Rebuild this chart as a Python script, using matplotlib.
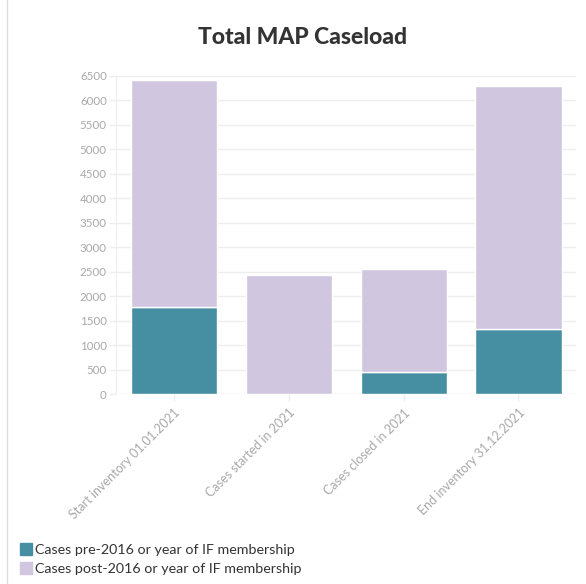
import matplotlib.pyplot as plt
from matplotlib.lines import Line2D

categories = ["Start inventory 01.01.2021", "Cases started in 2021",
              "Cases closed in 2021", "End inventory 31.12.2021"]
pre_2016 = [1770, 0, 440, 1320]
post_2016 = [4650, 2430, 2115, 4980]
series_names = ["Cases pre-2016 or year of IF membership",
                "Cases post-2016 or year of IF membership"]
yticks = list(range(0, 6501, 500))

teal = "#468fa3"
lavender = "#d0c6e0"
grid_c = "#eeeeee"
tick_c = "#a8a8a8"

plt.rcParams['font.family'] = ['Lato', 'DejaVu Sans']

fig = plt.figure(figsize=(5.86, 5.84), dpi=100)
ax = fig.add_axes([0.1988, 0.3253, 0.784, 0.5446])

x = range(len(categories))
ax.bar(x, pre_2016, width=0.75, color=teal, edgecolor="white", linewidth=1, zorder=3)
ax.bar(x, post_2016, bottom=pre_2016, width=0.75, color=lavender,
       edgecolor="white", linewidth=1, zorder=3)

ax.set_xlim(-0.5, 3.5)
ax.set_ylim(0, 6500)
ax.set_yticks(yticks)
ax.set_yticklabels([str(v) for v in yticks], fontsize=8.3, color=tick_c)
ax.set_xticks(list(x))
ax.set_xticklabels(categories, rotation=45, ha="right", rotation_mode="anchor",
                   fontsize=9, color=tick_c)
ax.grid(axis="y", color=grid_c, linewidth=1, zorder=0)
ax.tick_params(axis="both", color=grid_c, length=5, width=1)
ax.tick_params(axis="y", pad=2)
ax.tick_params(axis="x", pad=4)
for s in ["top", "right", "bottom"]:
    ax.spines[s].set_visible(False)
ax.spines["left"].set_color(grid_c)

fig.text(0.517, 0.935, "Total MAP Caseload", ha="center", va="center",
         fontsize=16.5, fontweight="black", color="#333333")

handles = [Line2D([], [], marker="s", linestyle="", markersize=9, color=c)
           for c in [teal, lavender]]
fig.legend(handles, series_names, loc="lower left", bbox_to_anchor=(0.018, 0.0),
           frameon=False, fontsize=10.3, handletextpad=0.1, labelspacing=0.55,
           handlelength=1.0, borderpad=0.1, labelcolor="#333333")

fig.add_artist(Line2D([0.012, 0.012], [0, 1], color="#dddddd", linewidth=1))

fig.savefig("out.png", dpi=100)
